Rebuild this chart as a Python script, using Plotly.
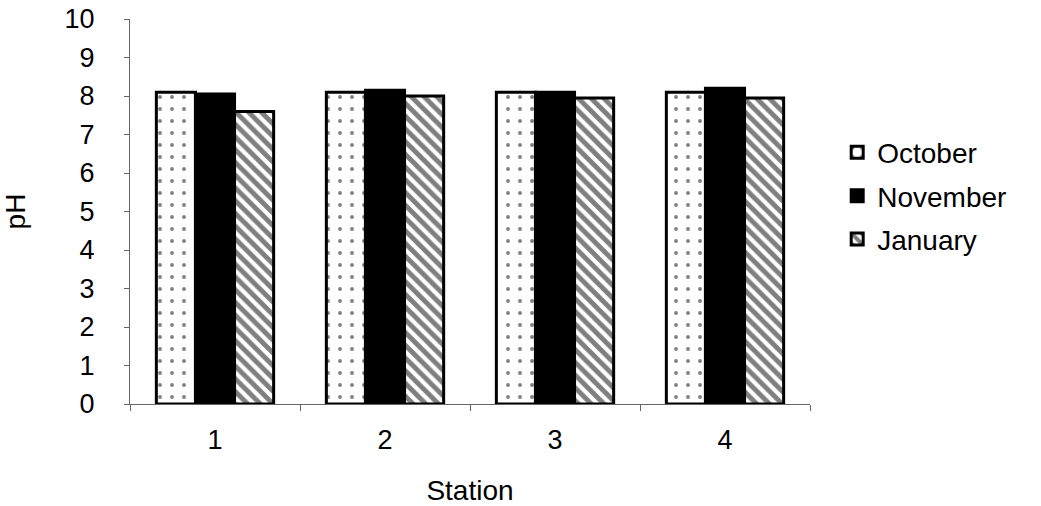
import plotly.graph_objects as go

# pH readings per station, three sampling months
stations = ["1", "2", "3", "4"]
months = ["October", "November", "January"]
october = [8.1, 8.1, 8.1, 8.1]
november = [8.05, 8.15, 8.1, 8.2]
january = [7.6, 8.0, 7.95, 7.95]
y_ticks = list(range(0, 11))

series = [
    (months[0], october, dict(shape=".", fgcolor="black", bgcolor="white", size=12, solidity=0.08), "white"),
    (months[1], november, dict(shape="", fgcolor="black", bgcolor="black"), "black"),
    (months[2], january, dict(shape="\\", fgcolor="black", bgcolor="white", size=9, solidity=0.55), "white"),
]

fig = go.Figure()
for name, vals, pattern, color in series:
    fig.add_trace(go.Bar(
        name=name, x=stations, y=vals, legendgroup=name,
        marker=dict(color=color, pattern=pattern, line=dict(color="black", width=3)),
    ))

family = "Liberation Sans, Arial, sans-serif"
tick_font = dict(family=family, size=27, color="black")
title_font = dict(family=family, size=28, color="black")

fig.update_layout(
    width=1041, height=506,
    margin=dict(l=130, r=231, t=19, b=102, autoexpand=False),
    paper_bgcolor="white", plot_bgcolor="white",
    barmode="group", bargap=0.31, bargroupgap=0,
    showlegend=True,
    legend=dict(x=1.04, y=0.54, xanchor="left", yanchor="middle",
                font=dict(family=family, size=28, color="black"),
                tracegroupgap=4, itemwidth=30),
    xaxis=dict(
        title=dict(text="Station", font=title_font, standoff=25),
        automargin=False,
        showline=True, linecolor="#666", linewidth=1,
        ticks="outside", tickson="boundaries", ticklen=6, tickcolor="#666",
        tickfont=tick_font, ticklabelstandoff=12, showgrid=False, range=[-0.5, 3.5],
    ),
    yaxis=dict(
        title=dict(text="pH", font=title_font, standoff=34),
        automargin=False,
        range=[0, 10], tickvals=y_ticks,
        showline=True, linecolor="#666", linewidth=1,
        ticks="outside", ticklen=5, tickcolor="#666",
        tickfont=tick_font, ticklabelstandoff=24, showgrid=False, zeroline=False,
    ),
)

fig.write_html("out.html")
